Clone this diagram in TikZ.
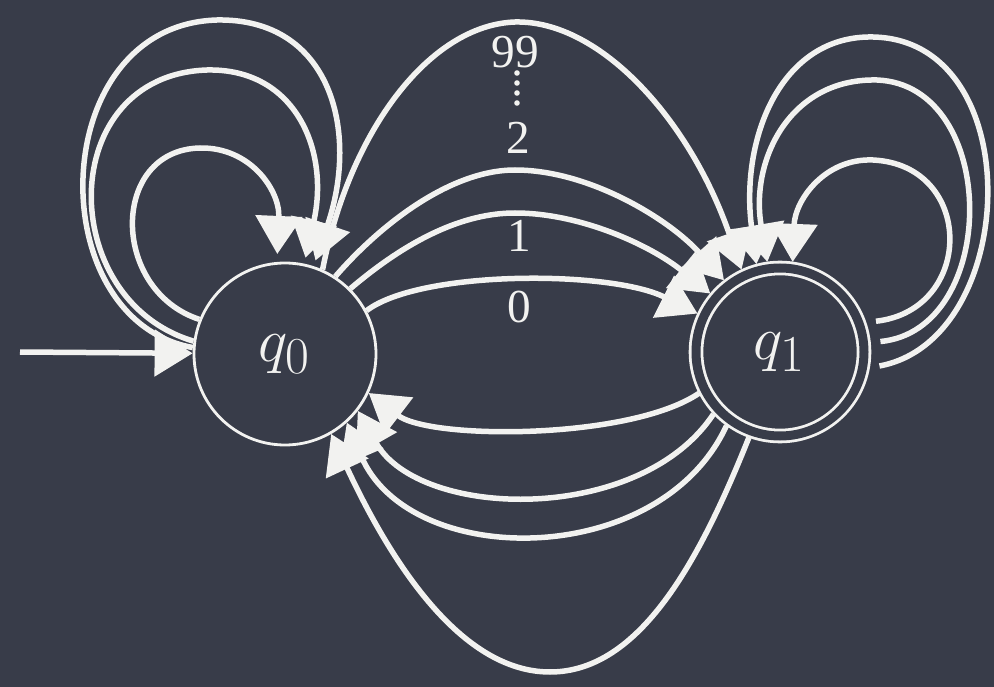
\documentclass[tikz,border=0pt]{standalone}
\usepackage{graphicx}
\usepackage{fontspec}
\setmainfont{Liberation Serif}
\usetikzlibrary{arrows.meta}
\definecolor{board}{RGB}{56,60,73}
\definecolor{chalk}{RGB}{242,242,240}
\newcommand{\bigq}[1]{\scalebox{2.5}{\Huge $q_{#1}$}}
\newcommand{\biglbl}[1]{\scalebox{1.9}{\Huge #1}}
\begin{document}
\begin{tikzpicture}[x=1pt,y=-1pt,
  edge/.style={draw=chalk, line width=5.5pt, -{Triangle[length=38pt,width=46pt]}},
  state/.style={circle, draw=chalk, line width=2.8pt, text=chalk, inner sep=0pt},
  lbl/.style={text=chalk, inner sep=0pt}]
\fill[board] (0,0) rectangle (994,687);
\useasboundingbox (0,0) rectangle (994,687);

\node[state, minimum size=182pt] (q0) at (285,354) {\bigq{0}};
\node[state, minimum size=168pt, double=board, double distance=9pt, outer sep=7pt] (q1) at (780,352) {\bigq{1}};
\coordinate (start) at (20,352);

% labels
\node[lbl] (l99) at (515,52) {\biglbl{99}};
\node[lbl] (l2) at (518,138) {\biglbl{2}};
\node[lbl] (l1) at (519,236) {\biglbl{1}};
\node[lbl] (l0) at (519,307) {\biglbl{0}};
\foreach \yy in {73,83,93,103} \fill[chalk] (517,\yy) circle (2.8pt);

% initial arrow
\draw[edge] (start) -- (q0);

% self loops on q0
\draw[edge, shorten >=8pt] (q0.158) .. controls (110,290) and (110,150) .. (200,148) .. controls (250,147) and (280,190) .. (q0.95);
\draw[edge, shorten >=6pt] (q0.172) .. controls (55,300) and (55,75) .. (207,70) .. controls (295,68) and (330,150) .. (q0.78);
\draw[edge, shorten >=6pt] (q0.176) .. controls (40,320) and (45,25) .. (217,20) .. controls (330,18) and (360,130) .. (q0.72);

% q0 -> q1
\draw[edge] (q0.28) .. controls (420,270) and (610,270) .. (q1.155);
\draw[edge] (q0.45) .. controls (390,255) and (450,213) .. (515,213) .. controls (580,213) and (650,245) .. (q1.140);
\draw[edge] (q0.57) .. controls (380,225) and (450,170) .. (515,170) .. controls (590,170) and (670,220) .. (q1.128);
\draw[edge] (q0.66) .. controls (350,130) and (430,25) .. (515,22) .. controls (600,20) and (690,120) .. (q1.115);

% self loops on q1
\draw[edge, shorten <=10pt] (q1.19) .. controls (975,310) and (975,165) .. (873,160) .. controls (825,158) and (795,200) .. (q1.82);
\draw[edge, shorten <=10pt] (q1.6) .. controls (1000,330) and (1000,85) .. (877,80) .. controls (790,78) and (750,160) .. (q1.98);
\draw[edge, shorten <=10pt] (q1.-10) .. controls (1020,340) and (1030,40) .. (873,37) .. controls (780,35) and (740,140) .. (q1.105);

% q1 -> q0
\draw[edge] (q1.207) .. controls (630,440) and (430,440) .. (q0.-25);
\draw[edge] (q1.223) .. controls (640,525) and (420,520) .. (q0.-38);
\draw[edge] (q1.234) .. controls (660,570) and (410,570) .. (q0.-48);
\draw[edge] (q1.250) .. controls (700,560) and (640,672) .. (550,672) .. controls (460,672) and (390,560) .. (q0.-60);
\end{tikzpicture}
\end{document}
